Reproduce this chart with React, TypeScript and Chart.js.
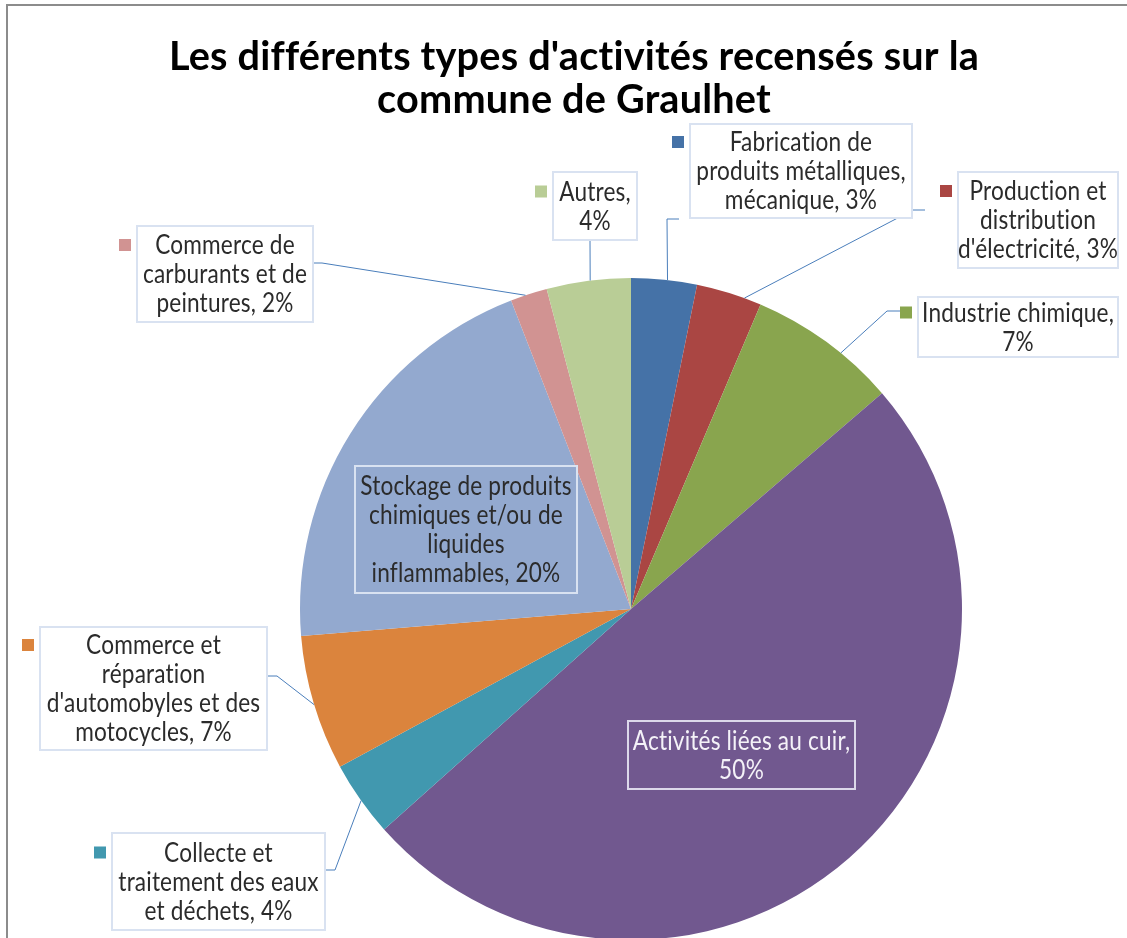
import React, { useEffect, useRef } from "react";
import { Chart, registerables } from "chart.js";

Chart.register(...registerables);

// ---------- data ----------
const titleLines = ["Les différents types d'activités recensés sur la", "commune de Graulhet"];

const categories = [
  "Fabrication de produits métalliques, mécanique",
  "Production et distribution d'électricité",
  "Industrie chimique",
  "Activités liées au cuir",
  "Collecte et traitement des eaux et déchets",
  "Commerce et réparation d'automobyles et des motocycles",
  "Stockage de produits chimiques et/ou de liquides inflammables",
  "Commerce de carburants et de peintures",
  "Autres",
];

const shares = [3.2, 3.2, 7.3, 49.7, 3.7, 6.6, 20.4, 1.8, 4.1];

const sliceColors = [
  "#4572A7",
  "#AA4643",
  "#89A54E",
  "#71588F",
  "#4198AF",
  "#DB843D",
  "#93A9CF",
  "#D19392",
  "#B9CD96",
];

// words per wrapped line of each label ("name, pct%")
const wordsPerLine = [
  [2, 2, 2],
  [2, 1, 2],
  [2, 1],
  [4, 1],
  [2, 3, 3],
  [2, 1, 3, 2],
  [3, 3, 1, 2],
  [2, 3, 2],
  [1, 1],
];

// ---------- label layout (annotation geometry) ----------
type Box = {
  x: number; y: number; w: number; h: number;
  key: boolean; inside: boolean; t: number;
  leader: number[][];
};
const labelLayout: Box[] = [
  { x: 690, y: 124, w: 222, h: 94, key: true, inside: false, t: 0.55, leader: [[679, 219], [667, 219]] },
  { x: 958, y: 172, w: 160, h: 96, key: true, inside: false, t: 0.74, leader: [[925, 210], [913, 210]] },
  { x: 918, y: 297, w: 200, h: 60, key: true, inside: false, t: 0.62, leader: [[900, 311], [887, 311]] },
  { x: 628, y: 721, w: 227, h: 68, key: false, inside: true, t: 0.5, leader: [] },
  { x: 112, y: 833, w: 213, h: 97, key: true, inside: false, t: 0.48, leader: [[325, 870], [335, 870]] },
  { x: 40, y: 627, w: 227, h: 123, key: true, inside: false, t: 0.49, leader: [[267, 676], [277, 676]] },
  { x: 355, y: 466, w: 222, h: 127, key: false, inside: true, t: 0.5, leader: [] },
  { x: 137, y: 226, w: 176, h: 96, key: true, inside: false, t: 0.41, leader: [[313, 263], [322, 263]] },
  { x: 553, y: 172, w: 84, h: 68, key: true, inside: false, t: 0.52, leader: [[590, 240]] },
];

const LINE_H = 29;
const LABEL_FONT = "26px Lato, 'Open Sans', sans-serif";
const LABEL_SX = 0.87;
const TITLE_FONT = "bold 41px Lato, 'Open Sans', sans-serif";

function buildLines(i: number, total: number): string[] {
  const pct = Math.round((shares[i] / total) * 100);
  const words = `${categories[i]}, ${pct}%`.split(" ");
  const out: string[] = [];
  let k = 0;
  for (const n of wordsPerLine[i]) {
    out.push(words.slice(k, k + n).join(" "));
    k += n;
  }
  return out;
}

const calloutPlugin = {
  id: "callouts",
  afterDraw(chart: any) {
    const ctx: any = chart.ctx;
    const total = shares.reduce((a, b) => a + b, 0);
    const meta = chart.getDatasetMeta(0);
    ctx.save();
    if ("letterSpacing" in ctx) ctx.letterSpacing = "0.2px";

    // frame
    ctx.strokeStyle = "#8c8c8c";
    ctx.lineWidth = 2;
    ctx.beginPath();
    ctx.moveTo(7, 938);
    ctx.lineTo(7, 5);
    ctx.lineTo(1127, 5);
    ctx.stroke();

    // title
    ctx.fillStyle = "#000";
    ctx.font = TITLE_FONT;
    ctx.textAlign = "center";
    ctx.textBaseline = "alphabetic";
    const w1 = ctx.measureText(titleLines[0]).width;
    const sx = Math.max(0.75, Math.min(1.2, 810 / w1));
    const titleY = [70, 113];
    titleLines.forEach((line, j) => {
      ctx.save();
      ctx.translate(574, titleY[j]);
      ctx.scale(sx, 1);
      ctx.fillText(line, 0, 0);
      ctx.restore();
    });

    // leaders
    ctx.strokeStyle = "#4a7ebb";
    ctx.lineWidth = 1;
    labelLayout.forEach((b, i) => {
      if (!b.leader.length) return;
      const arc = meta.data[i];
      const p = arc.getProps(["x", "y", "startAngle", "endAngle", "outerRadius"], true);
      const a = p.startAngle + b.t * (p.endAngle - p.startAngle);
      const ex = p.x + Math.cos(a) * p.outerRadius;
      const ey = p.y + Math.sin(a) * p.outerRadius;
      ctx.beginPath();
      ctx.moveTo(b.leader[0][0], b.leader[0][1]);
      for (let k = 1; k < b.leader.length; k++) ctx.lineTo(b.leader[k][0], b.leader[k][1]);
      ctx.lineTo(ex, ey);
      ctx.stroke();
    });

    // boxes, keys, text
    labelLayout.forEach((b, i) => {
      if (!b.inside) {
        ctx.fillStyle = "#ffffff";
        ctx.fillRect(b.x, b.y, b.w, b.h);
      }
      ctx.strokeStyle = i === 3 ? "#dcd8ea" : "#d9e2f1";
      ctx.lineWidth = 2;
      ctx.strokeRect(b.x, b.y, b.w, b.h);

      const lines = buildLines(i, total);
      const cy = b.y + b.h / 2;
      const firstY = cy - ((lines.length - 1) * LINE_H) / 2;
      if (b.key) {
        ctx.fillStyle = sliceColors[i];
        ctx.fillRect(b.x - 18, firstY - 6, 12, 12);
      }
      ctx.font = LABEL_FONT;
      ctx.textAlign = "center";
      ctx.textBaseline = "middle";
      ctx.fillStyle = i === 3 ? "#f4f2f8" : "#2b2b2b";
      lines.forEach((ln, j) => {
        ctx.save();
        ctx.translate(b.x + b.w / 2, firstY + j * LINE_H + 1);
        ctx.scale(LABEL_SX, 1);
        ctx.fillText(ln, 0, 0);
        ctx.restore();
      });
    });

    ctx.restore();
  },
};

export default function App() {
  const ref = useRef<HTMLCanvasElement | null>(null);
  useEffect(() => {
    if (!ref.current) return;
    const chart = new Chart(ref.current, {
      type: "pie",
      data: {
        labels: categories,
        datasets: [
          {
            data: shares,
            backgroundColor: sliceColors,
            borderWidth: 0,
          },
        ],
      },
      options: {
        responsive: false,
        animation: false,
        layout: { padding: { left: 300, right: 165, top: 278, bottom: 10 } },
        plugins: {
          legend: { display: false },
          tooltip: { enabled: false },
          title: { display: false },
        },
      },
      plugins: [calloutPlugin],
    });
    return () => chart.destroy();
  }, []);

  return (
    <div
      style={{
        position: "fixed",
        left: 0,
        top: 0,
        width: 1127,
        height: 938,
        overflow: "hidden",
        background: "#fff",
      }}
    >
      <canvas ref={ref} width={1127} height={950} style={{ display: "block" }} />
    </div>
  );
}
